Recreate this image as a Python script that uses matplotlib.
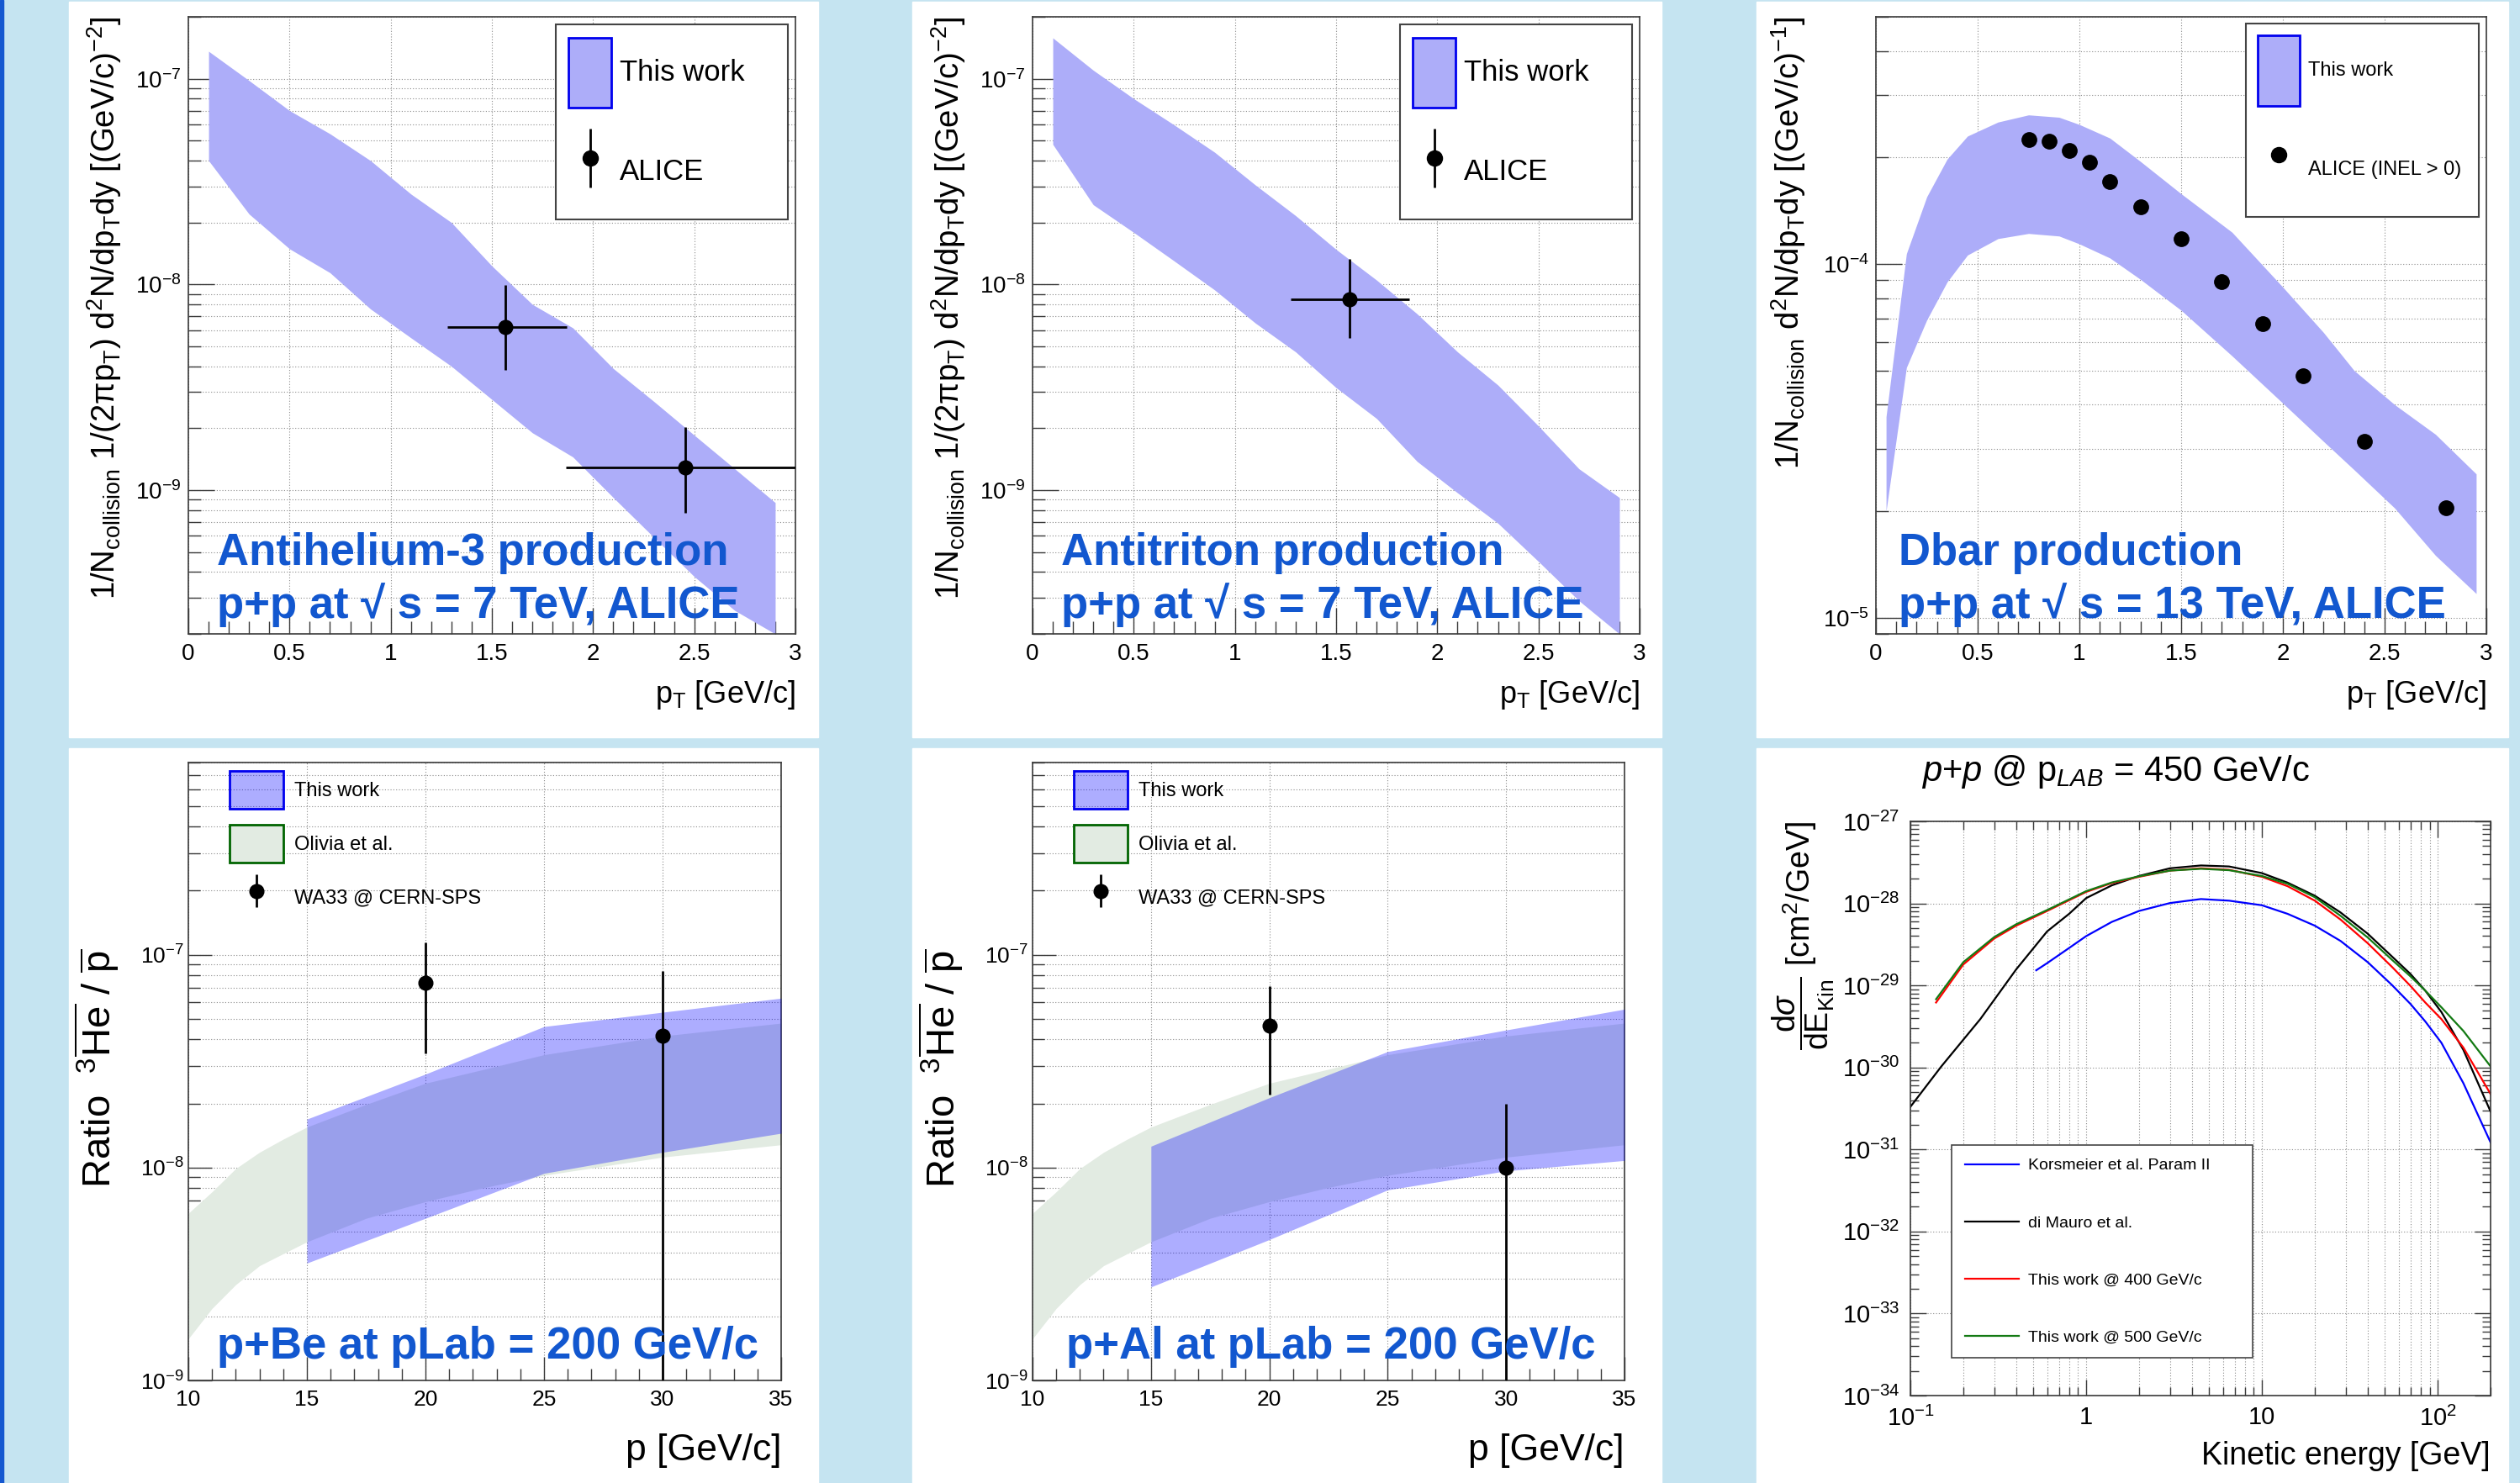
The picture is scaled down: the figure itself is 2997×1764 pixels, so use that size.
import numpy as np
import matplotlib
matplotlib.use("Agg")
import matplotlib.pyplot as plt
from matplotlib.patches import Patch, Rectangle
from matplotlib.lines import Line2D
from matplotlib.ticker import (LogLocator, MultipleLocator, FixedLocator,
                               FixedFormatter, NullFormatter, FuncFormatter)
from matplotlib.container import ErrorbarContainer
from matplotlib.legend_handler import HandlerErrorbar

plt.rcParams['font.family'] = ['Liberation Sans', 'DejaVu Sans']
plt.rcParams['mathtext.fontset'] = 'custom'
plt.rcParams['mathtext.rm'] = 'Liberation Sans'
plt.rcParams['mathtext.it'] = 'Liberation Sans:italic'
plt.rcParams['mathtext.bf'] = 'Liberation Sans:bold'
plt.rcParams['mathtext.sf'] = 'Liberation Sans'

# ---- antihelium-3, p+p 7 TeV ----
he3_pt = [0.1, 0.3, 0.5, 0.7, 0.9, 1.1, 1.3, 1.5, 1.7, 1.9, 2.1, 2.3, 2.5, 2.7, 2.9]
he3_hi = [1.36e-7, 9.8e-8, 7.0e-8, 5.4e-8, 4.0e-8, 2.75e-8, 2.0e-8, 1.23e-8,
          8.0e-9, 6.15e-9, 3.9e-9, 2.7e-9, 1.85e-9, 1.27e-9, 8.7e-10]
he3_lo = [4.0e-8, 2.2e-8, 1.49e-8, 1.14e-8, 7.6e-9, 5.5e-9, 4.0e-9, 2.76e-9,
          1.9e-9, 1.45e-9, 9.2e-10, 5.9e-10, 3.8e-10, 2.6e-10, 2.0e-10]
he3_alice_pt = [1.567, 2.457]
he3_alice_y = [6.2e-9, 1.29e-9]
he3_alice_yerr_lo = [2.35e-9, 5.15e-10]
he3_alice_yerr_hi = [3.75e-9, 7.3e-10]
he3_alice_xerr_lo = [0.288, 0.59]
he3_alice_xerr_hi = [0.302, 0.6]

# ---- antitriton, p+p 7 TeV ----
t_pt = [0.1, 0.3, 0.5, 0.7, 0.9, 1.1, 1.3, 1.5, 1.7, 1.9, 2.1, 2.3, 2.5, 2.7, 2.9]
t_hi = [1.58e-7, 1.10e-7, 8.0e-8, 5.96e-8, 4.39e-8, 3.05e-8, 2.16e-8, 1.48e-8,
        1.05e-8, 7.2e-9, 4.7e-9, 3.24e-9, 2.05e-9, 1.27e-9, 9.2e-10]
t_lo = [4.8e-8, 2.44e-8, 1.79e-8, 1.30e-8, 9.4e-9, 6.5e-9, 4.7e-9, 3.15e-9,
        2.23e-9, 1.38e-9, 9.7e-10, 6.9e-10, 4.5e-10, 2.9e-10, 2.0e-10]
t_alice_pt = [1.565]
t_alice_y = [8.5e-9]
t_alice_yerr_lo = [3.0e-9]
t_alice_yerr_hi = [4.8e-9]
t_alice_xerr_lo = [0.291]
t_alice_xerr_hi = [0.296]

# ---- antideuteron, p+p 13 TeV ----
d_pt = [0.05, 0.15, 0.25, 0.35, 0.45, 0.6, 0.75, 0.9, 1.0, 1.15, 1.3, 1.5,
        1.75, 2.0, 2.2, 2.35, 2.55, 2.75, 2.95]
d_hi = [3.7e-5, 1.07e-4, 1.55e-4, 1.98e-4, 2.30e-4, 2.52e-4, 2.64e-4, 2.60e-4,
        2.48e-4, 2.27e-4, 1.95e-4, 1.58e-4, 1.23e-4, 8.6e-5, 6.4e-5, 5.0e-5,
        4.0e-5, 3.3e-5, 2.55e-5]
d_lo = [2.0e-5, 5.1e-5, 6.95e-5, 8.9e-5, 1.06e-4, 1.18e-4, 1.22e-4, 1.20e-4,
        1.14e-4, 1.04e-4, 9.05e-5, 7.4e-5, 5.5e-5, 4.04e-5, 3.15e-5, 2.62e-5,
        2.04e-5, 1.5e-5, 1.17e-5]
d_alice_pt = [0.75, 0.85, 0.95, 1.05, 1.15, 1.3, 1.5, 1.7, 1.9, 2.1, 2.4, 2.8]
d_alice_y = [2.25e-4, 2.23e-4, 2.09e-4, 1.94e-4, 1.71e-4, 1.45e-4, 1.18e-4,
             8.9e-5, 6.8e-5, 4.84e-5, 3.15e-5, 2.04e-5]

# ---- 3He-bar / p-bar ratio, WA33 ----
olivia_p = [10, 11, 12, 13, 14, 15, 17.5, 20, 22.5, 25, 30, 35]
olivia_hi = [6.1e-9, 7.7e-9, 9.9e-9, 1.18e-8, 1.36e-8, 1.55e-8, 1.98e-8,
             2.49e-8, 2.90e-8, 3.39e-8, 4.15e-8, 4.77e-8]
olivia_lo = [1.57e-9, 2.18e-9, 2.82e-9, 3.46e-9, 3.94e-9, 4.48e-9, 5.78e-9,
             6.92e-9, 8.07e-9, 9.2e-9, 1.12e-8, 1.28e-8]
be_p = [15, 20, 25, 30, 35]
be_hi = [1.69e-8, 2.75e-8, 4.6e-8, 5.37e-8, 6.25e-8]
be_lo = [3.56e-9, 5.78e-9, 9.4e-9, 1.18e-8, 1.45e-8]
be_wa33_p = [20, 30]
be_wa33_y = [7.36e-8, 4.18e-8]
be_wa33_err_lo = [3.93e-8, 4.17e-8]
be_wa33_err_hi = [4.04e-8, 4.18e-8]
al_p = [15, 20, 25, 30, 35]
al_hi = [1.26e-8, 2.13e-8, 3.51e-8, 4.43e-8, 5.55e-8]
al_lo = [2.75e-9, 4.59e-9, 7.86e-9, 9.65e-9, 1.08e-8]
al_wa33_p = [20, 30]
al_wa33_y = [4.64e-8, 1.0e-8]
al_wa33_err_lo = [2.43e-8, 0.99e-8]
al_wa33_err_hi = [2.46e-8, 1.0e-8]

# ---- antiproton cross section, p+p @ 450 GeV/c ----
e_dimauro = [0.1, 0.15, 0.25, 0.4, 0.6, 0.8, 1.0, 1.4, 2, 3, 4.5, 6.5, 10,
             14, 20, 28, 40, 55, 70, 85, 105, 140, 200]
xs_dimauro = [3.31e-31, 1.03e-30, 3.89e-30, 1.57e-29, 4.56e-29, 7.46e-29,
              1.16e-28, 1.66e-28, 2.16e-28, 2.68e-28, 2.90e-28, 2.82e-28,
              2.34e-28, 1.79e-28, 1.24e-28, 7.76e-29, 4.27e-29, 2.25e-29,
              1.38e-29, 8.64e-30, 4.74e-30, 1.64e-30, 2.90e-31]
e_work = [0.14, 0.2, 0.3, 0.4, 0.6, 1.0, 1.4, 2, 3, 4.5, 6.5, 10, 14, 20, 28,
          40, 55, 70, 85, 105, 140, 200]
xs_400 = [6.19e-30, 1.80e-29, 3.73e-29, 5.35e-29, 8.09e-29, 1.38e-28, 1.77e-28,
          2.11e-28, 2.51e-28, 2.68e-28, 2.57e-28, 2.11e-28, 1.62e-28, 1.08e-28,
          6.36e-29, 3.27e-29, 1.68e-29, 9.87e-30, 6.19e-30, 3.89e-30,
          1.75e-30, 4.74e-31]
xs_500 = [6.8e-30, 1.92e-29, 3.89e-29, 5.57e-29, 8.3e-29, 1.41e-28, 1.8e-28,
          2.14e-28, 2.51e-28, 2.64e-28, 2.54e-28, 2.16e-28, 1.73e-28, 1.19e-28,
          7.07e-29, 3.84e-29, 2.05e-29, 1.29e-29, 8.64e-30, 5.42e-30,
          2.79e-30, 1.03e-30]
e_kors = [0.52, 0.6, 0.8, 1.0, 1.4, 2, 3, 4.5, 6.5, 10, 14, 20, 28, 40, 55,
          70, 85, 105, 140, 200]
xs_kors = [1.53e-29, 1.87e-29, 2.86e-29, 3.99e-29, 5.95e-29, 8.09e-29,
           1.01e-28, 1.13e-28, 1.08e-28, 9.49e-29, 7.46e-29, 5.35e-29,
           3.49e-29, 1.92e-29, 1.01e-29, 5.95e-30, 3.64e-30, 2.0e-30,
           6.44e-31, 1.22e-31]
e_ticks = [0.1, 1, 10, 100]
e_tick_labels = ['$10^{-1}$', '1', '10', '$10^{2}$']

W, H = 2997, 1764
BG = '#c5e4f1'
TXT_BLUE = '#1257cf'
BAND = '#adadf9'
GRID = dict(color='#8a8a8a', linestyle=(0, (1, 2)), linewidth=0.8)

fig = plt.figure(figsize=(W / 100, H / 100), dpi=100, facecolor=BG)

# white panels and left stripe
fig.add_artist(Rectangle((0, 0), 4 / W, 1, transform=fig.transFigure,
                         color='#1558d0', zorder=-5))
for x0, x1 in [(82, 973), (1085, 1976), (2089, 2983)]:
    fig.add_artist(Rectangle((x0 / W, 1 - 877 / H), (x1 - x0) / W, 875 / H,
                             transform=fig.transFigure, color='white', zorder=-5))
    fig.add_artist(Rectangle((x0 / W, 0), (x1 - x0) / W, 1 - 890 / H,
                             transform=fig.transFigure, color='white', zorder=-5))


def make_ax(px0, px1, py0, py1):
    return fig.add_axes([px0 / W, 1 - py1 / H, (px1 - px0) / W, (py1 - py0) / H])


def root_style(ax, tick_fs, major_len=16, minor_len=8, both_sides=False):
    for s in ax.spines.values():
        s.set_color('#3a3a3a')
        s.set_linewidth(1.2)
    ax.tick_params(which='both', direction='in', color='#3a3a3a', width=1.0,
                   labelsize=tick_fs, top=both_sides, right=both_sides)
    ax.tick_params(which='major', length=major_len)
    ax.tick_params(which='minor', length=minor_len)
    ax.set_axisbelow(True)


def num_fmt(v, p):
    return f'{v:g}'


def hh(px, fs_pt):
    # legend handleheight that gives a handle of px pixels at fs_pt points
    return (px / (fs_pt * 100 / 72) - 0.245) / 0.65


errh = {ErrorbarContainer: HandlerErrorbar(yerr_size=1.0)}

# ================= top panels: antihelium-3 and antitriton =================
top_sets = [
    (224, 946, he3_pt, he3_lo, he3_hi, he3_alice_pt, he3_alice_y,
     [he3_alice_yerr_lo, he3_alice_yerr_hi], [he3_alice_xerr_lo, he3_alice_xerr_hi],
     'Antihelium-3 production'),
    (1228, 1950, t_pt, t_lo, t_hi, t_alice_pt, t_alice_y,
     [t_alice_yerr_lo, t_alice_yerr_hi], [t_alice_xerr_lo, t_alice_xerr_hi],
     'Antitriton production'),
]
ylab_top = ('1/N$_{\\mathrm{collision}}$ 1/(2πp$_{\\mathrm{T}}$) d$^{2}$N/dp$_{\\mathrm{T}}$dy '
            '[(GeV/c)$^{-2}$]')
for (x0, x1, pt, lo, hi, apt, ay, yerr, xerr, title) in top_sets:
    ax = make_ax(x0, x1, 20, 754)
    ax.set_yscale('log')
    ax.fill_between(pt, lo, hi, color=BAND, lw=0, zorder=2)
    ax.errorbar(apt, ay, xerr=xerr, yerr=yerr, fmt='o', color='k', ms=12,
                lw=2, capsize=0, zorder=4)
    ax.set_xlim(0, 3)
    ax.set_ylim(2e-10, 2e-7)
    ax.xaxis.set_major_locator(MultipleLocator(0.5))
    ax.xaxis.set_minor_locator(MultipleLocator(0.1))
    ax.xaxis.set_major_formatter(FuncFormatter(num_fmt))
    ax.yaxis.set_major_locator(LogLocator(base=10, numticks=50))
    ax.yaxis.set_minor_locator(LogLocator(base=10, subs=np.arange(2, 10), numticks=50))
    ax.yaxis.set_minor_formatter(NullFormatter())
    root_style(ax, 20, 22, 11)
    ax.tick_params(axis='x', pad=8)
    ax.tick_params(axis='y', pad=6)
    ax.grid(True, which='major', axis='x', **GRID)
    ax.grid(True, which='both', axis='y', **GRID)
    ax.set_ylabel(ylab_top, fontsize=27.5, loc='top')
    ax.yaxis.set_label_coords(-0.106, 1.0)
    ax.set_xlabel('p$_{\\mathrm{T}}$ [GeV/c]', fontsize=26, loc='right')
    ax.xaxis.set_label_coords(1.0, -0.072)
    band_h = Patch(facecolor=BAND, edgecolor='#0000ee', lw=2)
    pt_h = ax.errorbar([], [], yerr=[], fmt='o', color='k', ms=13, lw=2, capsize=5)
    leg = ax.legend([band_h, pt_h], ['This work', 'ALICE'], loc='upper left',
                    bbox_to_anchor=(0.605, 0.666, 0.3825, 0.3217), mode='expand',
                    fontsize=25, handlelength=1.45, handleheight=hh(83, 25),
                    labelspacing=1.0, borderpad=0.45, handletextpad=0.3,
                    borderaxespad=0, fancybox=False, framealpha=1,
                    edgecolor='#444444', handler_map=errh)
    leg.get_frame().set_linewidth(1.5)
    ax.text(0.047, 0.112, title, transform=ax.transAxes, fontsize=38,
            fontweight='bold', color=TXT_BLUE, zorder=6)
    ax.text(0.047, 0.026, 'p+p at √ s = 7 TeV, ALICE', transform=ax.transAxes,
            fontsize=38, fontweight='bold', color=TXT_BLUE, zorder=6)

# ================= top right: antideuteron =================
ax = make_ax(2231, 2957, 20, 754)
ax.set_yscale('log')
ax.fill_between(d_pt, d_lo, d_hi, color=BAND, lw=0, zorder=2)
ax.plot(d_alice_pt, d_alice_y, 'o', color='k', ms=12.5, zorder=4)
ax.set_xlim(0, 3)
ax.set_ylim(9e-6, 5e-4)
ax.xaxis.set_major_locator(MultipleLocator(0.5))
ax.xaxis.set_minor_locator(MultipleLocator(0.1))
ax.xaxis.set_major_formatter(FuncFormatter(num_fmt))
ax.yaxis.set_major_locator(LogLocator(base=10, numticks=50))
ax.yaxis.set_minor_locator(LogLocator(base=10, subs=np.arange(2, 10), numticks=50))
ax.yaxis.set_minor_formatter(NullFormatter())
root_style(ax, 20, 22, 11)
ax.tick_params(axis='x', pad=8)
ax.tick_params(axis='y', pad=6)
ax.grid(True, which='major', axis='x', **GRID)
ax.grid(True, which='both', axis='y', **GRID)
ax.set_ylabel('1/N$_{\\mathrm{collision}}$ d$^{2}$N/dp$_{\\mathrm{T}}$dy [(GeV/c)$^{-1}$]',
              fontsize=27.5, loc='top')
ax.yaxis.set_label_coords(-0.112, 1.0)
ax.set_xlabel('p$_{\\mathrm{T}}$ [GeV/c]', fontsize=26, loc='right')
ax.xaxis.set_label_coords(1.0, -0.072)
band_h = Patch(facecolor=BAND, edgecolor='#0000ee', lw=2)
dot_h = Line2D([], [], marker='o', color='k', ms=13, ls='none')
leg = ax.legend([band_h, dot_h], ['This work', 'ALICE (INEL > 0)'], loc='upper left',
                bbox_to_anchor=(0.606, 0.666, 0.382, 0.323), mode='expand',
                fontsize=17, handlelength=2.1, handleheight=hh(84, 17),
                labelspacing=1.44, borderpad=0.6, handletextpad=0.42,
                borderaxespad=0, fancybox=False, framealpha=1, edgecolor='#444444')
leg.get_frame().set_linewidth(1.5)
ax.text(0.037, 0.112, 'Dbar production', transform=ax.transAxes, fontsize=38,
        fontweight='bold', color=TXT_BLUE, zorder=6)
ax.text(0.037, 0.026, 'p+p at √ s = 13 TeV, ALICE', transform=ax.transAxes,
        fontsize=38, fontweight='bold', color=TXT_BLUE, zorder=6)

# ================= bottom: ratio panels =================
bot_sets = [
    (224, 929, be_p, be_lo, be_hi, be_wa33_p, be_wa33_y,
     [be_wa33_err_lo, be_wa33_err_hi], 'p+Be at pLab = 200 GeV/c', 0.048),
    (1228, 1932, al_p, al_lo, al_hi, al_wa33_p, al_wa33_y,
     [al_wa33_err_lo, al_wa33_err_hi], 'p+Al at pLab = 200 GeV/c', 0.057),
]
for (x0, x1, p, lo, hi, wp, wy, werr, title, tx) in bot_sets:
    ax = make_ax(x0, x1, 907, 1642)
    ax.set_yscale('log')
    ax.fill_between(olivia_p, olivia_lo, olivia_hi, color='#e2ebe2', lw=0, zorder=2)
    ax.fill_between(p, lo, hi, color='blue', alpha=0.32, lw=0, zorder=3)
    ax.errorbar(wp, wy, yerr=werr, fmt='o', color='k', ms=12, lw=2, capsize=0,
                zorder=4)
    ax.set_xlim(10, 35)
    ax.set_ylim(1e-9, 8e-7)
    ax.xaxis.set_major_locator(MultipleLocator(5))
    ax.xaxis.set_minor_locator(MultipleLocator(1))
    ax.xaxis.set_major_formatter(FuncFormatter(num_fmt))
    ax.yaxis.set_major_locator(LogLocator(base=10, numticks=50))
    ax.yaxis.set_minor_locator(LogLocator(base=10, subs=np.arange(2, 10), numticks=50))
    ax.yaxis.set_minor_formatter(NullFormatter())
    root_style(ax, 19, 20, 10)
    ax.tick_params(axis='x', pad=8)
    ax.tick_params(axis='y', pad=4)
    ax.grid(True, which='major', axis='x', **GRID)
    ax.grid(True, which='both', axis='y', **GRID)
    ax.set_ylabel('Ratio  $^{3}\\overline{\\mathrm{He}}$ / $\\overline{\\mathrm{p}}$',
                  fontsize=34)
    ax.yaxis.set_label_coords(-0.112, 0.505)
    ax.set_xlabel('p [GeV/c]', fontsize=32, loc='right')
    ax.xaxis.set_label_coords(1.0, -0.086)
    h1 = Patch(facecolor=(0, 0, 1, 0.32), edgecolor='#0000ee', lw=2)
    h2 = Patch(facecolor='#e2ebe2', edgecolor='#006400', lw=2)
    h3 = ax.errorbar([], [], yerr=[], fmt='o', color='k', ms=12, lw=2, capsize=4.5)
    ax.legend([h1, h2, h3], ['This work', 'Olivia et al.', 'WA33 @ CERN-SPS'],
              loc='upper left', bbox_to_anchor=(0.0695, 0.986), frameon=False,
              fontsize=17, handlelength=2.7, handleheight=hh(45, 17),
              labelspacing=0.8, borderpad=0, borderaxespad=0, handletextpad=0.55,
              handler_map={ErrorbarContainer: HandlerErrorbar(yerr_size=0.83)})
    ax.text(tx, 0.035, title, transform=ax.transAxes, fontsize=38,
            fontweight='bold', color=TXT_BLUE, zorder=6)

# ================= bottom right: cross sections =================
ax = make_ax(2272, 2962, 977, 1660)
ax.set_xscale('log')
ax.set_yscale('log')
ax.plot(e_kors, xs_kors, color='#0000ff', lw=1.6, label='Korsmeier et al. Param II')
ax.plot(e_dimauro, xs_dimauro, color='black', lw=1.6, label='di Mauro et al.')
ax.plot(e_work, xs_400, color='#ff0000', lw=1.6, label='This work @ 400 GeV/c')
ax.plot(e_work, xs_500, color='#137a13', lw=1.6, label='This work @ 500 GeV/c')
ax.set_xlim(0.1, 200)
ax.set_ylim(1e-34, 1e-27)
ax.xaxis.set_major_locator(FixedLocator(e_ticks))
ax.xaxis.set_major_formatter(FixedFormatter(e_tick_labels))
ax.xaxis.set_minor_locator(LogLocator(base=10, subs=np.arange(2, 10), numticks=50))
ax.xaxis.set_minor_formatter(NullFormatter())
ax.yaxis.set_major_locator(LogLocator(base=10, numticks=50))
ax.yaxis.set_minor_locator(LogLocator(base=10, subs=np.arange(2, 10), numticks=50))
ax.yaxis.set_minor_formatter(NullFormatter())
root_style(ax, 21, 14, 7, both_sides=True)
ax.tick_params(axis='x', pad=9)
ax.tick_params(axis='y', pad=9)
ax.grid(True, which='both', axis='x', **GRID)
ax.grid(True, which='major', axis='y', **GRID)
ax.set_ylabel('$\\dfrac{\\mathrm{d}\\sigma}{\\mathrm{dE}_{\\mathrm{Kin}}}$ [cm$^{2}$/GeV]',
              fontsize=27, loc='top')
ax.yaxis.set_label_coords(-0.128, 1.0)
ax.set_xlabel('Kinetic energy [GeV]', fontsize=27, loc='right')
ax.xaxis.set_label_coords(1.0, -0.079)
leg = ax.legend(loc='upper left', bbox_to_anchor=(0.071, 0.041, 0.519, 0.395),
                mode='expand', fontsize=14, handlelength=3.3, labelspacing=2.6,
                borderpad=0.8, handletextpad=0.6, borderaxespad=0, fancybox=False,
                framealpha=1, edgecolor='#444444')
leg.get_frame().set_linewidth(1.2)
fig.text(2285 / W, 1 - 929 / H, '$p$+$p$ @ p$_{LAB}$ = 450 GeV/c', fontsize=30,
         va='baseline', ha='left')

fig.savefig('out.png', dpi=100, facecolor=BG)
